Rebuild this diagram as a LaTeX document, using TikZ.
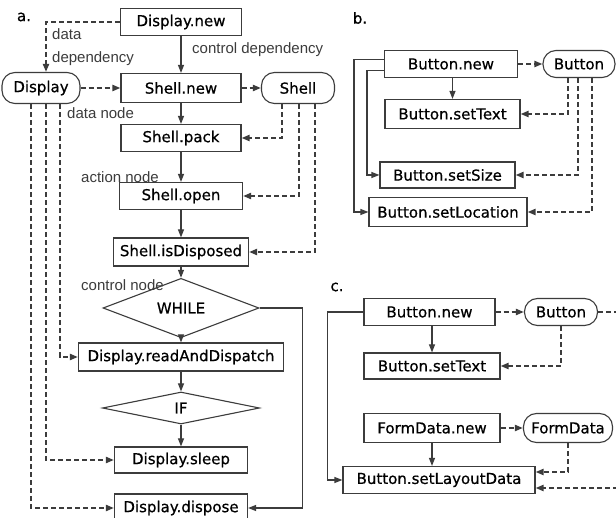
\documentclass[tikz,border=0pt]{standalone}
\usepackage{fontspec}
\setmainfont{DejaVu Sans}
\newfontfamily\boxfont[FakeBold=0.6]{DejaVu Sans}
\newfontfamily\lblfont{Liberation Sans}
\usetikzlibrary{shapes.geometric}
\usetikzlibrary{arrows.meta, positioning}
\definecolor{edge}{HTML}{3C3C3C}

\begin{document}
\begin{tikzpicture}[x=1pt, y=-1pt,
    act/.style={draw=edge, line width=1.1pt, rectangle, inner sep=0pt,
        font=\boxfont\fontsize{15}{17}\selectfont},
    obj/.style={act, rounded corners=13pt},
    ctrl/.style={act, diamond},
    flow/.style={draw=edge, line width=1.1pt, -{Triangle[length=8pt,width=6pt]}},
    dep/.style={flow, line width=2pt, dash pattern=on 5pt off 3pt},
    lbl/.style={inner sep=0pt, anchor=west, text=edge,
        font=\lblfont\fontsize{15}{23}\selectfont},
    tag/.style={inner sep=0pt, font=\boxfont\fontsize{15}{17}\selectfont}]
    \useasboundingbox (0,0) rectangle (616,518);
    \fill[white] (0,0) rectangle (616,518);
    \clip (0,0) rectangle (616,518);

    % a.
    \node[tag] (ta) at (24,17) {a.};
    \node[act, minimum width=121pt, minimum height=27pt] (dnew) at (181,22) {Display.new};
    \node[obj, minimum width=78pt, minimum height=31pt] (disp) at (41,88) {Display};
    \node[act, minimum width=120pt, minimum height=29pt] (snew) at (181,88) {Shell.new};
    \node[obj, minimum width=73pt, minimum height=31pt] (shell) at (298,88) {Shell};
    \node[act, minimum width=120pt, minimum height=27pt] (spack) at (181,138) {Shell.pack};
    \node[act, minimum width=123pt, minimum height=27pt] (sopen) at (181,196) {Shell.open};
    \node[act, minimum width=135pt, minimum height=28pt] (sdisp) at (181,252) {Shell.isDisposed};
    \node[ctrl, minimum width=156pt, minimum height=32pt] (while) at (181,308) {WHILE};
    \node[act, minimum width=205pt, minimum height=28pt] (rad) at (181,357) {Display.readAndDispatch};
    \node[ctrl, minimum width=157pt, minimum height=32pt] (if) at (181,408) {IF};
    \node[act, minimum width=133pt, minimum height=26pt] (sleep) at (181,460) {Display.sleep};
    \node[act, minimum width=133pt, minimum height=28pt] (dispose) at (181,508) {Display.dispose};

    \node[lbl, align=left] (ldep) at (52,47) {data\\dependency};
    \node[lbl] (lctl) at (192,50) {control dependency};
    \node[lbl] (ldn) at (67,113) {data node};
    \node[lbl] (lan) at (81,177) {action node};
    \node[lbl] (lcn) at (81,285) {control node};

    \draw[dep] (dnew.west) -| ([xshift=5pt]disp.north);
    \draw[flow] (dnew) -- (snew);
    \draw[dep] (disp) -- (snew);
    \draw[dep] (snew) -- (shell);
    \draw[flow] (snew) -- (spack);
    \draw[flow] (spack) -- (sopen);
    \draw[flow] (sopen) -- (sdisp);
    \draw[flow] (sdisp) -- (while);
    \draw[flow] (while) -- (rad);
    \draw[flow] (rad) -- (if);
    \draw[flow] (if) -- (sleep);
    \draw[flow] (while.east) -- ++(43,0) |- (dispose.east);
    \draw[dep] ([xshift=-16pt]shell.south) |- (spack.east);
    \draw[dep] ([xshift=1pt]shell.south) |- (sopen.east);
    \draw[dep] ([xshift=17pt]shell.south) |- (sdisp.east);
    \draw[dep] ([xshift=19pt]disp.south) |- (rad.west);
    \draw[dep] ([xshift=5pt]disp.south) |- (sleep.west);
    \draw[dep] ([xshift=-10pt]disp.south) |- (dispose.west);

    % b.
    \node[tag] (tb) at (360,18) {b.};
    \node[act, minimum width=133pt, minimum height=27pt] (bnew) at (451,64) {Button.new};
    \node[obj, minimum width=72pt, minimum height=27pt] (bbtn) at (579,64) {Button};
    \node[act, minimum width=135pt, minimum height=29pt] (btext) at (452.5,114) {Button.setText};
    \node[act, minimum width=135pt, minimum height=26pt] (bsize) at (447.5,175) {Button.setSize};
    \node[act, minimum width=158pt, minimum height=29pt] (bloc) at (448,212) {Button.setLocation};

    \draw[dep] (bnew) -- (bbtn);
    \draw[flow] (bnew.south -| btext.north) -- (btext.north);
    \draw[flow] ([yshift=4.5pt]bnew.west) -- ++(-30,0) |- (bloc.west);
    \draw[flow] ([yshift=-6.5pt]bnew.west) -- ++(-17,0) |- (bsize.west);
    \draw[dep] ([xshift=-11pt]bbtn.south) |- (btext.east);
    \draw[dep] ([xshift=-1pt]bbtn.south) |- (bsize.east);
    \draw[dep] ([xshift=13pt]bbtn.south) |- (bloc.east);

    % c.
    \node[tag] (tc) at (337,287) {c.};
    \node[act, minimum width=131pt, minimum height=27pt] (cnew) at (429.5,312) {Button.new};
    \node[obj, minimum width=73pt, minimum height=27pt] (cbtn) at (561,312) {Button};
    \node[act, minimum width=136pt, minimum height=26pt] (ctext) at (432,366) {Button.setText};
    \node[act, minimum width=136pt, minimum height=29pt] (fnew) at (432,428) {FormData.new};
    \node[obj, minimum width=89pt, minimum height=29pt] (form) at (568,428) {FormData};
    \node[act, minimum width=192pt, minimum height=27pt] (lay) at (439,480) {Button.setLayoutData};
    \coordinate (cedge) at (640,488);

    \draw[dep] (cnew) -- (cbtn);
    \draw[flow] (cnew.south -| ctext.north) -- (ctext.north);
    \draw[flow] (cnew.west) -- ++(-36,0) |- (lay.west);
    \draw[dep] (cbtn.south) |- (ctext.east);
    \draw[dep] (cbtn.east) -| (cedge) -- ([yshift=-8pt]lay.east);
    \draw[dep] (fnew) -- (form);
    \draw[flow] (fnew.south) -- (fnew.south |- lay.north);
    \draw[dep] (form.south) |- ([yshift=8pt]lay.east);

\end{tikzpicture}
\end{document}
